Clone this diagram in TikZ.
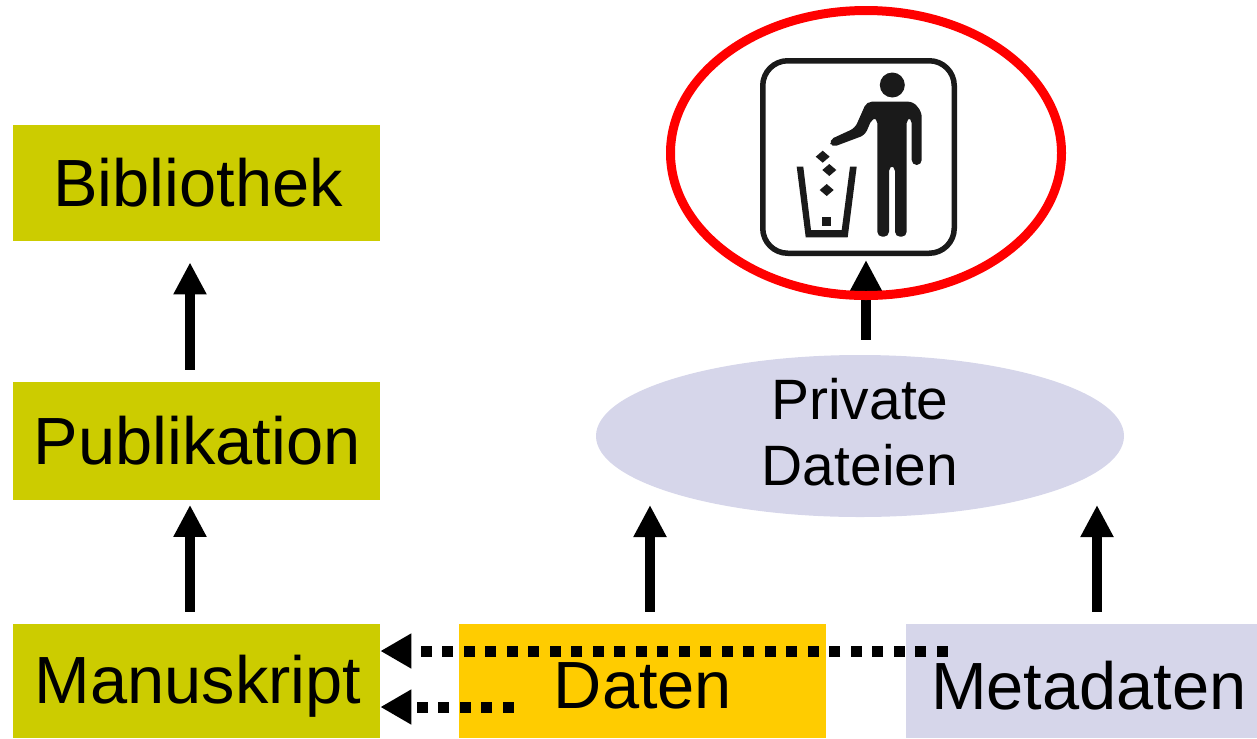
\documentclass[tikz,border=0pt]{standalone}
\usepackage{fontspec}
\setmainfont{Liberation Sans}
\usetikzlibrary{positioning, shapes, arrows.meta, calc}

\definecolor{oliveBox}{HTML}{CCCC00}
\definecolor{orangeBox}{HTML}{FFCC00}
\definecolor{lilaBox}{HTML}{D6D6EA}
\definecolor{iconInk}{HTML}{1A1A1A}

\tikzset{
  x=0.2mm, y=-0.2mm,
  textbox/.style={rectangle, inner sep=0pt, minimum width=73.4mm},
  boxlabel/.style={font=\fontsize{38}{44}\selectfont},
  uparrow/.style={-{Triangle[length=6.4mm, width=6.2mm]}, line width=2mm},
  dotarrow/.style={-{Triangle[length=6.2mm, width=6.6mm]}, line width=2.2mm, dash pattern=on 2.2mm off 2.1mm},
}

\begin{document}
\begin{tikzpicture}
  \useasboundingbox (0,0) rectangle (1257,738);

  % Nodes
  \node[textbox, fill=oliveBox, minimum height=23.2mm] (biblio) at (196.5,183) {};
  \node[textbox, fill=oliveBox, minimum height=23.6mm] (publi) at (196.5,441) {};
  \node[textbox, fill=oliveBox, minimum height=22.8mm] (manu) at (196.5,681) {};
  \node[textbox, fill=orangeBox, minimum height=22.8mm] (daten) at (642.5,681) {};
  \node[textbox, fill=lilaBox, minimum height=22.8mm, minimum width=70.2mm] (meta) at (1081.5,681) {};
  \node[ellipse, fill=lilaBox, inner sep=0pt, minimum width=105.6mm, minimum height=32.4mm] (privat) at (860,436) {};
  \node[draw=iconInk, rounded corners=5mm, line width=1.1mm, minimum width=38.3mm, minimum height=38.5mm, inner sep=0pt] (icon) at (858.5,157) {};

  % Labels
  \node[boxlabel] (biblioText) at (198,183) {Bibliothek};
  \node[boxlabel] (publiText) at (197,441) {Publikation};
  \node[boxlabel] (manuText) at (198,686) {Manuskript};
  \node[boxlabel] (datenText) at (643,686) {Daten};
  \node[boxlabel] (metaText) at (1089,686) {Metadaten};
  \node[font=\fontsize{32.4}{37.5}\selectfont, align=center] (privatText) at (860,432.5) {Private\\Dateien};

  % Arrows
  \draw[uparrow, shorten <=2.4mm, shorten >=0.9mm] ([xshift=-1.3mm]manu.north) -- ([xshift=-1.3mm]publi.south);
  \draw[uparrow, shorten <=2.4mm, shorten >=4.2mm] ([xshift=-1.3mm]publi.north) -- ([xshift=-1.3mm]biblio.south);
  \coordinate (datenTip) at (650,505);
  \coordinate (metaTip) at (1097,505);
  \coordinate (iconTip) at (866,260);
  \draw[uparrow, shorten <=2.4mm] (datenTip |- daten.north) -- (datenTip);
  \draw[uparrow, shorten <=2.4mm] (metaTip |- meta.north) -- (metaTip);
  \draw[uparrow, shorten <=3mm] (iconTip |- privat.north) -- (iconTip);

  \draw[dotarrow] ([xshift=8.4mm, yshift=6mm]meta.west) -- ([yshift=6mm]manu.east);
  \draw[dotarrow] ([xshift=11mm, yshift=-5.2mm]daten.west) -- ([yshift=-5.2mm]manu.east);

  % Red ring
  \node[ellipse, draw=red, line width=1.8mm, inner sep=0pt, minimum width=78.2mm, minimum height=57mm] (ring) at (866,153) {};

  % Icon
  \fill[iconInk] (892.3,85) circle (2.5mm);
  \fill[iconInk, rounded corners=1mm] (866.7,101.7) -- (913.3,101.7) -- (921.7,112) -- (921.7,165) -- (911.7,165) -- (911.7,118)
    -- (906.7,118) -- (906.7,236.7) -- (895,236.7) -- (895,166) -- (889,166) -- (889,236.7) -- (877.3,236.7) -- (877.3,118)
    -- (872.3,118) -- (865,135) -- (831.7,147.5) -- (829,140) -- (855,128) -- cycle;
  \foreach \dx/\dy in {822.7/156.7, 829.3/170, 826.7/190}
    \fill[iconInk] (\dx-7,\dy) -- (\dx,\dy-6) -- (\dx+7,\dy) -- (\dx,\dy+6) -- cycle;
  \fill[iconInk] (822,217) rectangle (831,226);
  \fill[iconInk] (796.7,166.7) -- (803.3,166.7) -- (811,230) -- (841.7,230) -- (850,166.7) -- (856.7,166.7) -- (847.7,237.3) -- (805.7,237.3) -- cycle;
\end{tikzpicture}
\end{document}
